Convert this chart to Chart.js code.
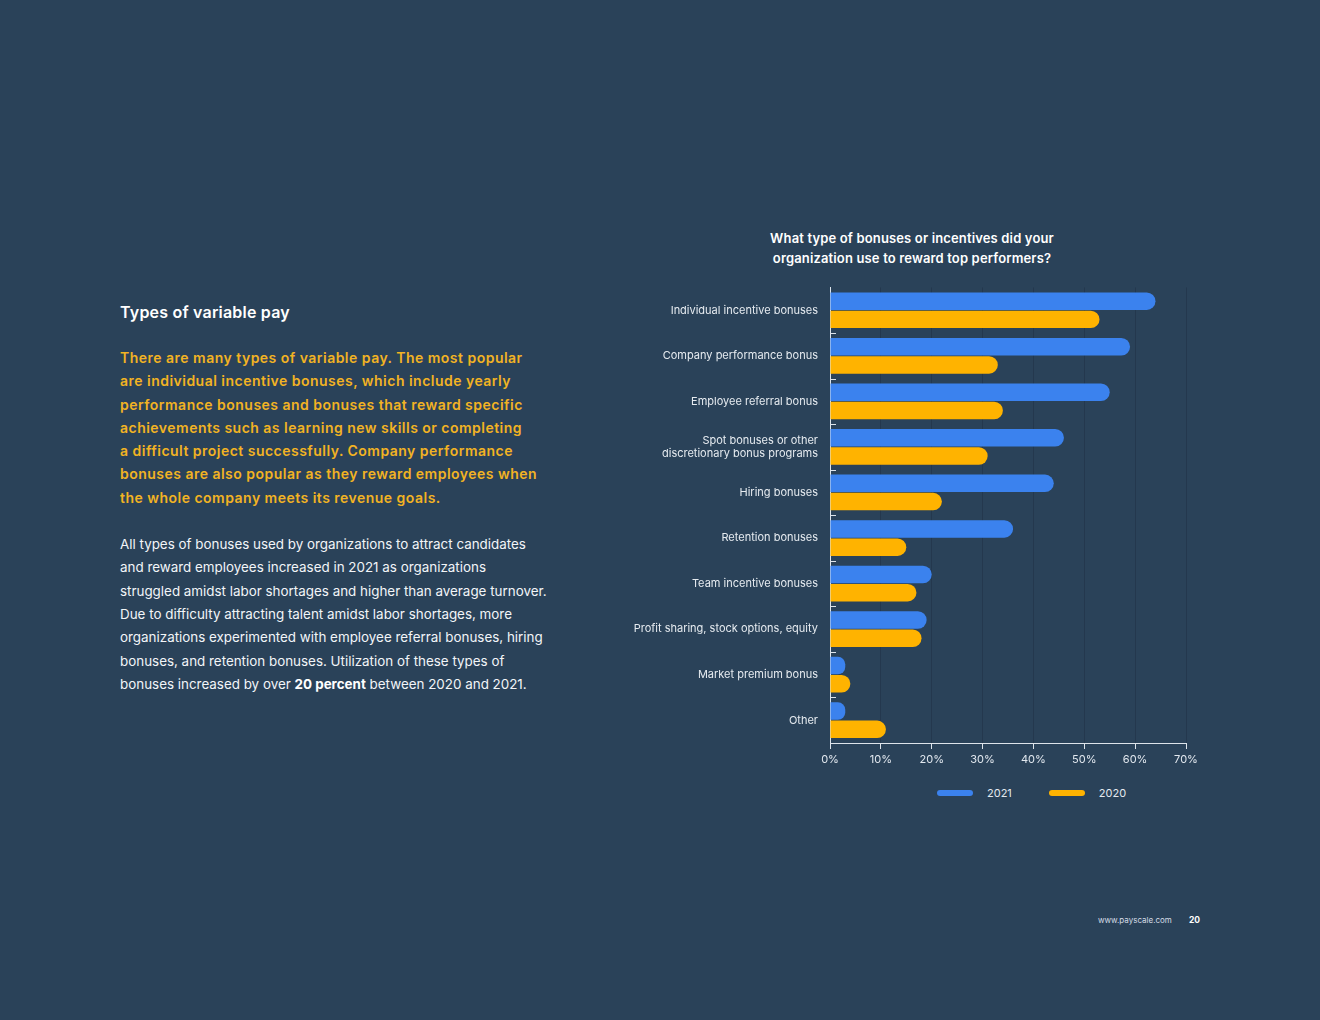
<!DOCTYPE html>
<html>
<head>
<meta charset="utf-8">
<script src="https://cdn.jsdelivr.net/npm/chart.js@4.4.1/dist/chart.umd.min.js"></script>
<style>
  html, body { margin: 0; padding: 0; }
  body {
    width: 1320px; height: 1020px; background: #2a4259; position: relative;
    font-family: Inter, "Noto Sans", sans-serif; color: #ffffff; overflow: hidden;
  }
  .heading { position: absolute; left: 120px; top: 302px; font-size: 16px; font-weight: 600; letter-spacing: 0.2px; }
  .lead {
    position: absolute; left: 120px; top: 346px; width: 460px;
    font-size: 14px; font-weight: 600; line-height: 23.3px; color: #f2b323; letter-spacing: 0.48px;
  }
  .body {
    position: absolute; left: 120px; top: 533px; width: 450px;
    font-size: 13.4px; line-height: 23.35px; color: #f2f5f8;
  }
  .body b { font-weight: 700; color: #ffffff; }
  .chart-title {
    position: absolute; left: 712px; top: 228px; width: 400px; text-align: center;
    font-size: 13px; font-weight: 600; line-height: 20px; color: #ffffff; letter-spacing: 0.15px;
  }
  #chartBox { position: absolute; left: 620px; top: 269px; width: 600px; height: 511px; }
  #legend { position: absolute; left: 937px; top: 785px; display: flex; font-size: 11px; color: #e4e9ef; }
  #legend .item { display: flex; align-items: center; margin-right: 37px; height: 16px; }
  #legend .swatch { width: 36px; height: 6px; border-radius: 3px; margin-right: 14px; }
  .footer { position: absolute; top: 915px; font-size: 8px; color: #d5dde6; }
</style>
</head>
<body>
<div class="heading">Types of variable pay</div>
<div class="lead">
There are many types of variable pay. The most popular<br>
are individual incentive bonuses, which include yearly<br>
performance bonuses and bonuses that reward specific<br>
achievements such as learning new skills or completing<br>
a difficult project successfully. Company performance<br>
bonuses are also popular as they reward employees when<br>
the whole company meets its revenue goals.
</div>
<div class="body">
All types of bonuses used by organizations to attract candidates<br>
and reward employees increased in 2021 as organizations<br>
struggled amidst labor shortages and higher than average turnover.<br>
Due to difficulty attracting talent amidst labor shortages, more<br>
organizations experimented with employee referral bonuses, hiring<br>
bonuses, and retention bonuses. Utilization of these types of<br>
bonuses increased by over <b>20 percent</b> between 2020 and 2021.
</div>

<div class="chart-title">What type of bonuses or incentives did your<br>organization use to reward top performers?</div>
<div id="chartBox"><canvas id="bonusChart"></canvas></div>
<div id="legend"></div>

<div class="footer" style="left:1098px;">www.payscale.com</div>
<div class="footer" style="left:1189px; font-weight:700; color:#ffffff; font-size:8.5px;">20</div>

<script>
// Survey categories and values (% of organizations)
const categories = [
    'Individual incentive bonuses',
    'Company performance bonus',
    'Employee referral bonus',
    ['Spot bonuses or other', 'discretionary bonus programs'],
    'Hiring bonuses',
    'Retention bonuses',
    'Team incentive bonuses',
    'Profit sharing, stock options, equity',
    'Market premium bonus',
    'Other'
];
const values2021 = [64, 59, 55, 46, 44, 36, 20, 19, 3, 3];
const values2020 = [53, 33, 34, 31, 22, 15, 17, 18, 4, 11];
const xTicks = [0, 10, 20, 30, 40, 50, 60, 70];

const blue = '#3b82ee';
const yellow = '#ffb300';
const lightLine = '#dde4eb';

// small tick marks between categories, drawn inside the plot next to the y axis
const categoryTicks = {
    id: 'categoryTicks',
    afterDatasetsDraw(chart) {
        const y = chart.scales.y;
        const ctx = chart.ctx;
        const left = chart.chartArea.left;
        ctx.save();
        ctx.strokeStyle = lightLine;
        ctx.lineWidth = 1;
        for (let i = 1; i < categories.length; i++) {
            const pos = Math.round((y.getPixelForTick(i - 1) + y.getPixelForTick(i)) / 2) + 0.5;
            ctx.beginPath();
            ctx.moveTo(left, pos);
            ctx.lineTo(left + 6, pos);
            ctx.stroke();
        }
        ctx.restore();
    }
};

const ctx = document.getElementById('bonusChart').getContext('2d');
const bonusChart = new Chart(ctx, {
    type: 'bar',
    data: {
        labels: categories,
        datasets: [{
            label: '2021',
            data: values2021,
            backgroundColor: blue,
            borderRadius: 9,
            borderSkipped: 'start'
        }, {
            label: '2020',
            data: values2020,
            backgroundColor: yellow,
            borderRadius: 9,
            borderSkipped: 'start'
        }]
    },
    options: {
        indexAxis: 'y',
        responsive: true,
        maintainAspectRatio: false,
        animation: false,
        categoryPercentage: 0.8,
        barPercentage: 0.96,
        layout: { padding: { top: 9, right: 34, left: 0, bottom: 0 } },
        plugins: {
            legend: { display: false },
            tooltip: { enabled: false }
        },
        scales: {
            x: {
                min: 0,
                max: 70,
                afterBuildTicks: (scale) => { scale.ticks = xTicks.map(v => ({ value: v })); },
                afterFit: (scale) => { scale.height = 37; },
                grid: {
                    color: '#24384e',
                    lineWidth: 1,
                    drawTicks: true,
                    tickLength: 6,
                    tickColor: lightLine
                },
                border: { display: true, color: lightLine, width: 1 },
                ticks: {
                    color: '#e2e8ef',
                    padding: 4,
                    font: { family: 'Inter', size: 11 },
                    callback: (v) => v + '%'
                }
            },
            y: {
                afterFit: (scale) => { scale.width = 210; },
                grid: { display: false, drawTicks: false },
                border: { display: true, color: lightLine, width: 1 },
                ticks: {
                    color: '#e6ebf0',
                    padding: 12,
                    font: { family: 'Inter', size: 11, lineHeight: 1.18 }
                }
            }
        }
    },
    plugins: [categoryTicks]
});

// Build the legend from the datasets
const legendEl = document.getElementById('legend');
bonusChart.data.datasets.forEach(ds => {
    const item = document.createElement('div');
    item.className = 'item';
    const sw = document.createElement('span');
    sw.className = 'swatch';
    sw.style.background = ds.backgroundColor;
    const txt = document.createElement('span');
    txt.textContent = ds.label;
    item.appendChild(sw);
    item.appendChild(txt);
    legendEl.appendChild(item);
});
</script>
</body>
</html>
